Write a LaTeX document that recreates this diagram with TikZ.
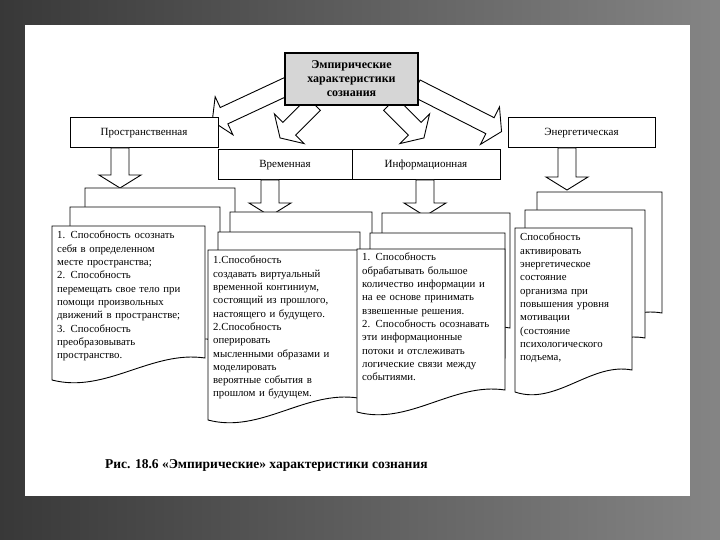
\documentclass[tikz,border=0pt]{standalone}
\usepackage{fontspec}
\setmainfont{Liberation Serif}
\begin{document}
\begin{tikzpicture}[x=1pt,y=-1pt,
  lbl/.style={draw,line width=1pt,fill=white,font=\fontsize{11}{12}\selectfont,inner sep=0pt},
  body/.style={anchor=north west,align=left,inner sep=0pt,font=\fontsize{10.8}{13.3}\selectfont},
  sheet/.style={draw,line width=0.9pt,fill=white},
  barrow/.style={draw,line width=0.9pt,fill=white}]
\useasboundingbox (0,0) rectangle (720,540);
\shade[left color=black!78,right color=black!48] (0,0) rectangle (720,540);
\fill[white] (25,25) rectangle (690,496);
\newcommand{\barw}[4]{%
 \begin{scope}[shift={(#1,#2)},rotate=#3]
 \draw[barrow] (0,-9) -- (#4-13,-9) -- (#4-13,-21) -- (#4,0) -- (#4-13,21) -- (#4-13,9) -- (0,9) -- cycle;
 \end{scope}}
\newcommand{\doc}[4]{%
 \draw[sheet] (#1,#2) -- (#3,#2) -- (#3,#4-22) .. controls ({#3-0.35*(#3-#1)},{#4-30}) and ({#1+0.35*(#3-#1)},{#4+14}) .. (#1,#4) -- cycle;}
% arrows from title
\barw{292}{84}{-155}{88}
\barw{314}{104}{-135}{48}
\barw{390}{104}{-45}{48}
\barw{416}{88}{-27}{96}
% title
\node[lbl,fill=black!16,line width=1.6pt,minimum width=133pt,minimum height=52pt,align=center,font=\bfseries\fontsize{12}{14}\selectfont] (t) at (351.5,79) {Эмпирические\\характеристики\\сознания};
% category boxes
\node[lbl,minimum width=148pt,minimum height=30pt] (p) at (144,133) {Пространственная};
\node[lbl,minimum width=134pt,minimum height=30pt] (v) at (285,165) {Временная};
\node[lbl,minimum width=148pt,minimum height=30pt] (i) at (426,165) {Информационная};
\node[lbl,minimum width=147pt,minimum height=30pt] (e) at (581.5,133) {Энергетическая};
% down arrows
\barw{120}{148}{-90}{40}
\barw{270}{180}{-90}{36}
\barw{425}{180}{-90}{36}
\barw{567}{148}{-90}{42}
% column 1 sheets
\doc{85}{188}{235}{345}
\doc{70}{207}{220}{362}
\doc{52}{226}{205}{380}
% column 2
\doc{230}{212}{372}{380}
\doc{218}{232}{360}{400}
\doc{208}{250}{358}{420}
% column 3
\doc{382}{213}{510}{350}
\doc{370}{233}{505}{380}
\doc{357}{249}{505}{412}
% column 4
\doc{537}{192}{662}{335}
\doc{525}{210}{645}{360}
\doc{515}{228}{632}{392}
% texts
\node[body,text width=150pt] (t1) at (57,231) {1. Способность осознать\\себя в определенном\\месте пространства;\\2. Способность\\перемещать свое тело при\\помощи произвольных\\движений в пространстве;\\3. Способность\\преобразовывать\\пространство.};
\node[body,text width=145pt] (t2) at (213,256) {1.Способность\\создавать виртуальный\\временной континиум,\\состоящий из прошлого,\\настоящего и будущего.\\2.Способность\\оперировать\\мысленными образами и\\моделировать\\вероятные события в\\прошлом и будущем.};
\node[body,text width=145pt] (t3) at (362,253) {1. Способность\\обрабатывать большое\\количество информации и\\на ее основе принимать\\взвешенные решения.\\2. Способность осознавать\\эти информационные\\потоки и отслеживать\\логические связи между\\событиями.};
\node[body,text width=115pt] (t4) at (520,233) {Способность\\активировать\\энергетическое\\состояние\\организма при\\повышения уровня\\мотивации\\(состояние\\психологического\\подъема,};
\node[anchor=west,inner sep=0pt,font=\bfseries\fontsize{13.5}{15}\selectfont] (cap) at (105,465) {Рис. 18.6 «Эмпирические» характеристики сознания};
\end{tikzpicture}
\end{document}
